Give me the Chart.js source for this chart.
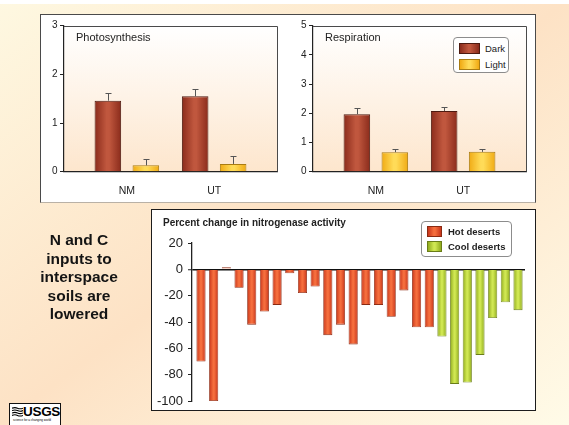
<!DOCTYPE html>
<html>
<head>
<meta charset="utf-8">
<title>Crust activity: photosynthesis, respiration and nitrogenase</title>
<script src="https://cdn.jsdelivr.net/npm/chart.js@4.4.1/dist/chart.umd.min.js"></script>
<style>
  html, body { margin: 0; padding: 0; }
  body {
    width: 569px; height: 425px; position: relative; overflow: hidden;
    font-family: "Liberation Sans", Arial, Helvetica, sans-serif; color: #1e1e1e;
    background: linear-gradient(to bottom right, #fef8e1 0%, #fde2c5 50%, #fffbe8 100%);
  }
  .abs { position: absolute; }
  canvas { position: absolute; }
  #topStrip { left: 0; top: 0; width: 569px; height: 4px; background: #fff; }
  #topPanel { left: 40px; top: 14px; width: 496px; height: 189px; box-sizing: border-box;
              background: #fff; border: 1px solid #4a4a4a; border-bottom-color: #b9b1a6; }
  #bottomPanel { left: 151px; top: 209px; width: 385px; height: 202px; box-sizing: border-box;
                 background: #fff; border: 1.5px solid #1c1c1c; }
  .plotTitle { font-size: 11px; line-height: 13px; white-space: nowrap; color: #222; }
  #nitroTitle { left: 163px; top: 217px; font-size: 10px; line-height: 12px; font-weight: bold; white-space: nowrap; color: #222; }
  .legendBox { position: absolute; background: #fff; border: 1px solid #8c8c8c; border-radius: 4px; box-sizing: border-box; }
  .legendRow { position: absolute; white-space: nowrap; color: #222; }
  .legendRow .sw { position: absolute; left: 0; top: 0; box-sizing: border-box; }
  .legendRow .lab { position: absolute; top: 0; }
  #message { left: 0; top: 231px; width: 158px; text-align: center; font-weight: bold;
             font-size: 15.5px; line-height: 18.6px; color: #141414; }
  #usgs { left: 9px; top: 403px; width: 52px; height: 24px; box-sizing: border-box; background: #fff;
          border: 1px solid #111; }
  #usgs .mark { position: absolute; left: 13px; top: 1px; font-family: "Liberation Sans Narrow", "Liberation Sans", Arial, sans-serif;
                font-weight: bold; font-size: 13.5px; line-height: 14px; letter-spacing: -0.3px; color: #000; }
  #usgs .tag { position: absolute; left: 3px; top: 15px; font-size: 3px; line-height: 3px; color: #000; white-space: nowrap; }
</style>
</head>
<body>
<div id="topStrip" class="abs"></div>
<div id="topPanel" class="abs"></div>
<div id="bottomPanel" class="abs"></div>

<canvas id="photoChart" width="246" height="186" style="left:41px; top:15px;"></canvas>
<canvas id="respChart" width="246" height="186" style="left:290px; top:15px;"></canvas>
<canvas id="nitroChart" width="383" height="204" style="left:152px; top:210px;"></canvas>

<div class="abs plotTitle" style="left:76px; top:31px;">Photosynthesis</div>
<div class="abs plotTitle" style="left:325px; top:31px;">Respiration</div>
<div id="nitroTitle" class="abs">Percent change in nitrogenase activity</div>

<div id="respLegend" class="legendBox" style="left:453px; top:37px; width:56px; height:36px;"></div>
<div id="nitroLegend" class="legendBox" style="left:421px; top:221px; width:91px; height:36px;"></div>

<div id="message" class="abs">N and C<br>inputs to<br>interspace<br>soils are<br>lowered</div>

<div id="usgs" class="abs">
  <svg width="11" height="10" style="position:absolute; left:2px; top:3px;" viewBox="0 0 11 10">
    <g stroke="#000" stroke-width="1.1" fill="none">
      <path d="M0 1.2 Q3 0 5.5 1.2 T11 1.2"/>
      <path d="M0 3.6 Q3 2.4 5.5 3.6 T11 3.6"/>
      <path d="M0 6 Q3 4.8 5.5 6 T11 6"/>
      <path d="M0 8.4 Q3 7.2 5.5 8.4 T11 8.4"/>
    </g>
  </svg>
  <div class="mark">USGS</div>
  <div class="tag">science for a changing world</div>
</div>

<script>
// Photosynthesis and respiration of crusts, dark vs light incubations, per site
const sites = ['NM', 'UT'];
const photoDark = [1.46, 1.55];
const photoDarkErr = [0.16, 0.15];
const photoLight = [0.13, 0.16];
const photoLightErr = [0.14, 0.16];
const respDark = [1.97, 2.08];
const respDarkErr = [0.20, 0.14];
const respLight = [0.67, 0.68];
const respLightErr = [0.12, 0.11];
const photoTicks = [0, 1, 2, 3];
const respTicks = [0, 1, 2, 3, 4, 5];

// Percent change in nitrogenase activity, one bar per site
const hotDeserts = [-70, -100, 1.5, -14, -42, -32, -27, -3, -18, -13, -50, -42, -57, -27, -27, -36, -16, -44, -44];
const coolDeserts = [-51, -87, -86, -65, -37, -25, -31];
const nitroTicks = [20, 0, -20, -40, -60, -80, -100];

// Bar tones: edge / middle give a rounded, shaded look
const DARK  = { edge: '#8a2b1b', mid: '#c0573e', border: '#4d1a10' };
const LIGHT = { edge: '#f0aa14', mid: '#ffdb58', border: '#a97c12' };
const HOT   = { edge: '#c8351a', mid: '#f56e3d', border: '#8a2a12' };
const COOL  = { edge: '#90ab1d', mid: '#d0e752', border: '#6a7d18' };

const FONT = '"Liberation Sans", Arial, Helvetica, sans-serif';
Chart.defaults.font.family = FONT;

function shadeCss(t) {
  return 'linear-gradient(to right,' + t.edge + ' 0%,' + t.mid + ' 45%,' + t.mid + ' 55%,' + t.edge + ' 100%)';
}

// Horizontal shading across every bar
const cylinderShading = {
  id: 'cylinderShading',
  beforeDatasetsDraw(chart) {
    const ctx = chart.ctx;
    chart.data.datasets.forEach((ds, di) => {
      const t = ds.tone;
      chart.getDatasetMeta(di).data.forEach(bar => {
        const half = bar.width / 2;
        const g = ctx.createLinearGradient(bar.x - half, 0, bar.x + half, 0);
        g.addColorStop(0, t.edge);
        g.addColorStop(0.45, t.mid);
        g.addColorStop(0.55, t.mid);
        g.addColorStop(1, t.edge);
        bar.options.backgroundColor = g;
      });
    });
  }
};

// Plot area wash and the top/right frame
const plotBackdrop = {
  id: 'plotBackdrop',
  beforeDraw(chart) {
    const { ctx, chartArea: a } = chart;
    const g = ctx.createLinearGradient(0, a.top, 0, a.bottom);
    g.addColorStop(0, '#ffffff');
    g.addColorStop(1, '#fde6cd');
    ctx.save();
    ctx.fillStyle = g;
    ctx.fillRect(a.left, a.top, a.right - a.left, a.bottom - a.top);
    ctx.restore();
  },
  afterDraw(chart) {
    const { ctx, chartArea: a } = chart;
    ctx.save();
    ctx.strokeStyle = '#4a4a4a';
    ctx.lineWidth = 1;
    ctx.beginPath();
    ctx.moveTo(a.left, Math.round(a.top) + 0.5);
    ctx.lineTo(Math.round(a.right) + 0.5, Math.round(a.top) + 0.5);
    ctx.lineTo(Math.round(a.right) + 0.5, a.bottom);
    ctx.stroke();
    ctx.restore();
  }
};

// Error bars above each bar, read from the dataset's err array
const errorBars = {
  id: 'errorBars',
  afterDatasetsDraw(chart) {
    const { ctx } = chart;
    const y = chart.scales.y;
    ctx.save();
    ctx.strokeStyle = '#555';
    ctx.lineWidth = 1;
    chart.data.datasets.forEach((ds, di) => {
      chart.getDatasetMeta(di).data.forEach((bar, i) => {
        const v = ds.data[i].y;
        const y0 = y.getPixelForValue(v);
        const y1 = Math.round(y.getPixelForValue(v + ds.err[i])) + 0.5;
        const x = Math.round(bar.x) + 0.5;
        ctx.beginPath();
        ctx.moveTo(x, y0);
        ctx.lineTo(x, y1);
        ctx.moveTo(x - 3, y1);
        ctx.lineTo(x + 3, y1);
        ctx.stroke();
      });
    });
    ctx.restore();
  }
};

function siteChart(id, ticks, dark, darkErr, light, lightErr) {
  const pts = vals => sites.map((s, i) => ({ x: i, y: vals[i] }));
  return new Chart(document.getElementById(id), {
    type: 'bar',
    data: {
      datasets: [
        { label: 'Dark', data: pts(dark), err: darkErr, tone: DARK,
          backgroundColor: () => DARK.mid, borderColor: DARK.border, borderWidth: 1 },
        { label: 'Light', data: pts(light), err: lightErr, tone: LIGHT,
          backgroundColor: () => LIGHT.mid, borderColor: LIGHT.border, borderWidth: 1 }
      ]
    },
    options: {
      responsive: false, animation: false, events: [],
      categoryPercentage: 0.87, barPercentage: 0.70,
      layout: { padding: { top: 10.7, right: 10, left: 0, bottom: 0 } },
      plugins: { legend: { display: false }, tooltip: { enabled: false } },
      scales: {
        x: {
          type: 'linear', offset: false, min: -0.72, max: sites.length - 1 + 0.72,
          afterBuildTicks: s => { s.ticks = sites.map((n, i) => ({ value: i })); },
          afterFit: s => { s.height = 29.3; },
          ticks: { callback: v => sites[v], font: { size: 10.5 }, color: '#222', padding: 13,
                   maxRotation: 0, autoSkip: false },
          grid: { display: false, drawTicks: false },
          border: { color: '#222', width: 1.2 }
        },
        y: {
          min: ticks[0], max: ticks[ticks.length - 1],
          afterBuildTicks: s => { s.ticks = ticks.map(v => ({ value: v })); },
          afterFit: s => { s.width = 23; },
          ticks: { font: { size: 10 }, color: '#222', padding: 2.5 },
          grid: { drawOnChartArea: false, drawTicks: true, tickLength: 4, tickColor: '#222', tickWidth: 1 },
          border: { color: '#222', width: 1.2 }
        }
      }
    },
    plugins: [plotBackdrop, cylinderShading, errorBars]
  });
}

const photoChart = siteChart('photoChart', photoTicks, photoDark, photoDarkErr, photoLight, photoLightErr);
const respChart = siteChart('respChart', respTicks, respDark, respDarkErr, respLight, respLightErr);

const siteCount = hotDeserts.length + coolDeserts.length;
const nitroChart = new Chart(document.getElementById('nitroChart'), {
  type: 'bar',
  data: {
    datasets: [
      { label: 'Hot deserts', data: hotDeserts.map((v, i) => ({ x: i, y: v })), tone: HOT, grouped: false,
        backgroundColor: () => HOT.mid, borderColor: HOT.border, borderWidth: 0.8 },
      { label: 'Cool deserts', data: coolDeserts.map((v, i) => ({ x: hotDeserts.length + i, y: v })), tone: COOL, grouped: false,
        backgroundColor: () => COOL.mid, borderColor: COOL.border, borderWidth: 0.8 }
    ]
  },
  options: {
    responsive: false, animation: false, events: [],
    categoryPercentage: 1, barPercentage: 0.72,
    layout: { padding: { top: 33, right: 10, bottom: 13, left: 0 } },
    plugins: { legend: { display: false }, tooltip: { enabled: false } },
    scales: {
      x: {
        type: 'linear', offset: false, min: -0.71, max: siteCount - 1 + 0.55,
        afterBuildTicks: s => { s.ticks = Array.from({ length: siteCount }, (_, i) => ({ value: i })); },
        afterFit: s => { s.height = 0; },
        ticks: { display: false },
        grid: { display: false, drawTicks: false },
        border: { display: false }
      },
      y: {
        z: 1,
        min: nitroTicks[nitroTicks.length - 1], max: nitroTicks[0],
        afterBuildTicks: s => { s.ticks = nitroTicks.slice().reverse().map(v => ({ value: v })); },
        afterFit: s => { s.width = 40; },
        ticks: { font: { size: 13 }, color: '#222', padding: 5 },
        grid: {
          color: c => (c.tick && c.tick.value === 0) ? '#111' : 'rgba(0,0,0,0)',
          lineWidth: c => (c.tick && c.tick.value === 0) ? 1.5 : 1,
          drawTicks: true, tickLength: 4, tickColor: '#222', tickWidth: 1
        },
        border: { color: '#222', width: 1.3 }
      }
    }
  },
  plugins: [cylinderShading]
});

// HTML legends built from the chart datasets
function buildLegend(boxId, chart, opt) {
  const box = document.getElementById(boxId);
  chart.data.datasets.forEach((ds, i) => {
    const row = document.createElement('div');
    row.className = 'legendRow';
    row.style.left = opt.left + 'px';
    row.style.top = (opt.top + i * opt.step) + 'px';
    const sw = document.createElement('div');
    sw.className = 'sw';
    sw.style.width = opt.sw[0] + 'px';
    sw.style.height = opt.sw[1] + 'px';
    sw.style.background = shadeCss(ds.tone);
    sw.style.border = '1px solid ' + ds.tone.border;
    const lab = document.createElement('div');
    lab.className = 'lab';
    lab.textContent = ds.label;
    lab.style.left = opt.textLeft + 'px';
    lab.style.fontSize = opt.fontSize + 'px';
    lab.style.lineHeight = opt.sw[1] + 'px';
    lab.style.fontWeight = opt.bold ? 'bold' : 'normal';
    row.appendChild(sw);
    row.appendChild(lab);
    box.appendChild(row);
  });
}
buildLegend('respLegend', respChart, { left: 5, top: 5, step: 15.5, sw: [21, 11], textLeft: 26, fontSize: 9.5, bold: false });
buildLegend('nitroLegend', nitroChart, { left: 5, top: 3.5, step: 15.5, sw: [15, 11], textLeft: 21, fontSize: 9.5, bold: true });
</script>
</body>
</html>
